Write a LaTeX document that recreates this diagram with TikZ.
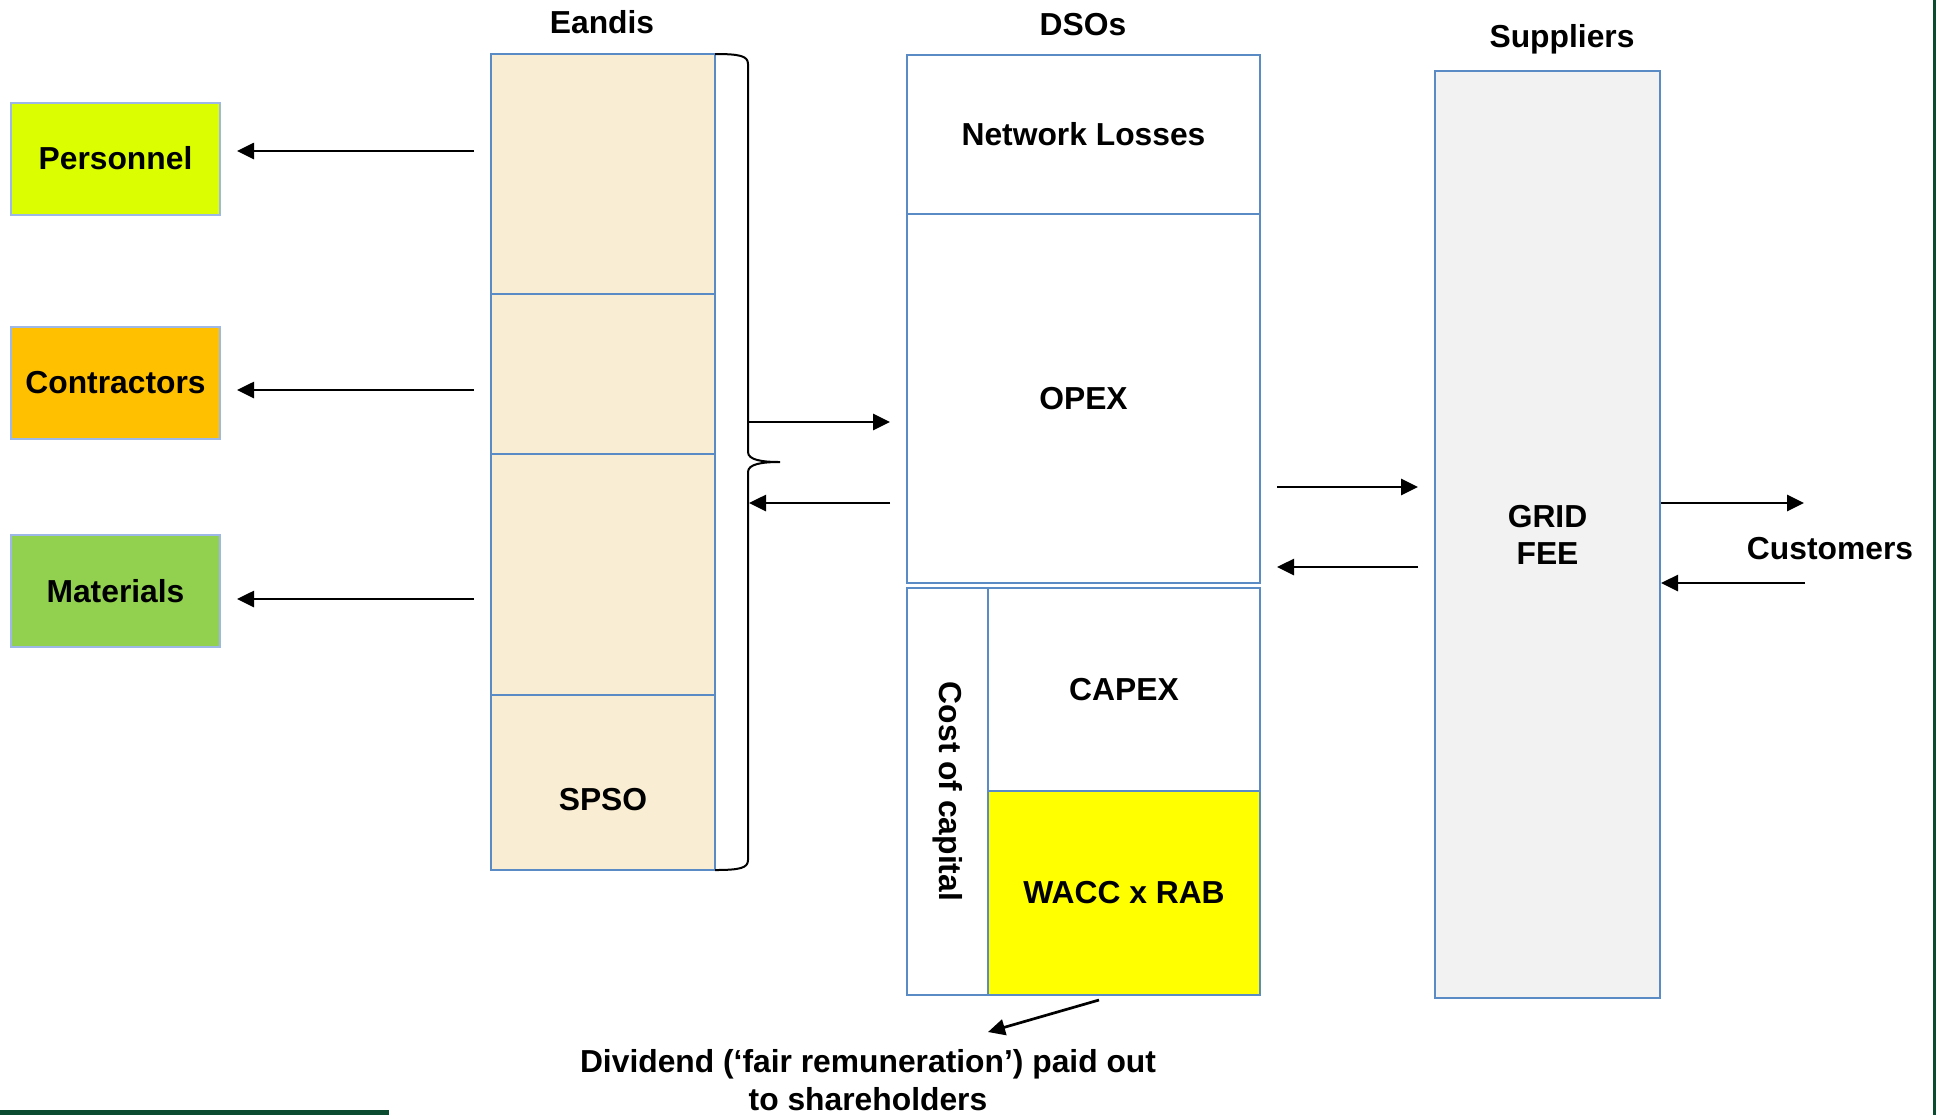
\documentclass[tikz,border=0pt]{standalone}
\usepackage{fontspec}
\setmainfont{Liberation Sans}
\usepackage{tikz}
\usetikzlibrary{arrows.meta,calc}

\definecolor{perscol}{HTML}{DBFF00}
\definecolor{contcol}{HTML}{FFC000}
\definecolor{matcol}{HTML}{92D050}
\definecolor{catline}{HTML}{9DB7E6}
\definecolor{colline}{HTML}{5B8BC5}
\definecolor{eancol}{HTML}{F9EDD3}
\definecolor{supcol}{HTML}{F2F2F2}
\definecolor{wacccol}{HTML}{FFFF00}
\definecolor{barcol}{HTML}{0B4B30}

\begin{document}
\begin{tikzpicture}[x=0.5pt, y=-0.5pt,
      txt/.style={font=\fontsize{15.9}{18.5}\selectfont\bfseries, align=center},
      cat/.style={txt, draw=catline, line width=1pt, minimum width=104.5pt, minimum height=56pt, inner sep=0pt},
      col/.style={txt, draw=colline, line width=1pt, inner sep=0pt},
      arr/.style={line width=1.35pt, -{Triangle[length=8.5pt, width=8pt]}}]
      \useasboundingbox (0,0) rectangle (1936,1115);

      \node[cat, fill=perscol] (per) at (115.5,158.5) {Personnel};
      \node[cat, fill=contcol] (con) at (115.5,382.5) {Contractors};
      \node[cat, fill=matcol] (mat) at (115.5,591) {Materials};

      \node[col, fill=eancol, minimum width=112pt, minimum height=120pt] (e1) at (603,174) {};
      \node[col, fill=eancol, minimum width=112pt, minimum height=80pt] (e2) at (603,374) {};
      \node[col, fill=eancol, minimum width=112pt, minimum height=120.5pt] (e3) at (603,574.5) {};
      \node[col, fill=eancol, minimum width=112pt, minimum height=87.5pt] (e4) at (603,782.5) {};
      \node[txt] (spso) at (603,800) {SPSO};
      \node[txt] (ean) at (602,22) {Eandis};

      \node[col, minimum width=176.5pt, minimum height=79.5pt] (nl) at (1083.5,134.5) {Network Losses};
      \node[col, minimum width=176.5pt, minimum height=184.5pt] (opex) at (1083.5,398.5) {OPEX};
      \node[col, rotate=-90, minimum width=203.5pt, minimum height=40.5pt] (coc) at (947.5,791.5) {Cost of capital};
      \node[col, minimum width=136pt, minimum height=101.5pt] (capex) at (1124,689.5) {CAPEX};
      \node[col, fill=wacccol, minimum width=136pt, minimum height=102pt] (wacc) at (1124,893) {WACC x RAB};
      \node[txt] (dso) at (1083,25) {DSOs};

      \node[col, fill=supcol, minimum width=112.5pt, minimum height=463.5pt] (sup) at (1547.5,534.5) {GRID\\FEE};
      \node[txt] (suplab) at (1562,39.5) {Suppliers};
      \node[txt] (cus) at (1830,549) {Customers};
      \node[txt, font=\fontsize{15.9}{19.2}\selectfont\bfseries] (div) at (868,1080) {Dividend (‘fair remuneration’) paid out\\to shareholders};

      \draw[line width=1pt] (715,54) .. controls (740,54) and (748,56) .. (748,64) -- (748,452)
            .. controls (748,460) and (762,462) .. (780,462) .. controls (762,462) and (748,464) .. (748,472)
            -- (748,860) .. controls (748,868) and (740,870) .. (715,870);

      \draw[arr] ($(per.east -| e1.west)+(-16,-7.5)$) -- ($(per.east)+(16,-7.5)$);
      \draw[arr] ($(con.east -| e1.west)+(-16,7.5)$) -- ($(con.east)+(16,7.5)$);
      \draw[arr] ($(mat.east -| e1.west)+(-16,8)$) -- ($(mat.east)+(16,8)$);

      \draw[arr] ($(opex.west -| e1.east)+(33,23.5)$) -- ($(opex.west)+(-16,23.5)$);
      \draw[arr] ($(opex.west)+(-16,104.5)$) -- ($(opex.west -| e1.east)+(33,104.5)$);

      \draw[arr] ($(opex.east)+(16,88.5)$) -- ($(sup.west)+(-16,-47.5)$);
      \draw[arr] ($(sup.west)+(-16,32.5)$) -- ($(opex.east)+(16,168.5)$);

      \draw[arr] ($(sup.east)+(0,-31.5)$) -- ($(sup.east)+(143,-31.5)$);
      \draw[arr] ($(sup.east)+(144,48.5)$) -- ($(sup.east)+(0,48.5)$);

      \draw[arr] ($(wacc.south)+(-25,4)$) -- ($(wacc.south west)+(1,36)$);

      \fill[barcol] (0,1110) rectangle (389,1115);
      \fill[barcol] (1933,0) rectangle (1936,1115);
\end{tikzpicture}
\end{document}
